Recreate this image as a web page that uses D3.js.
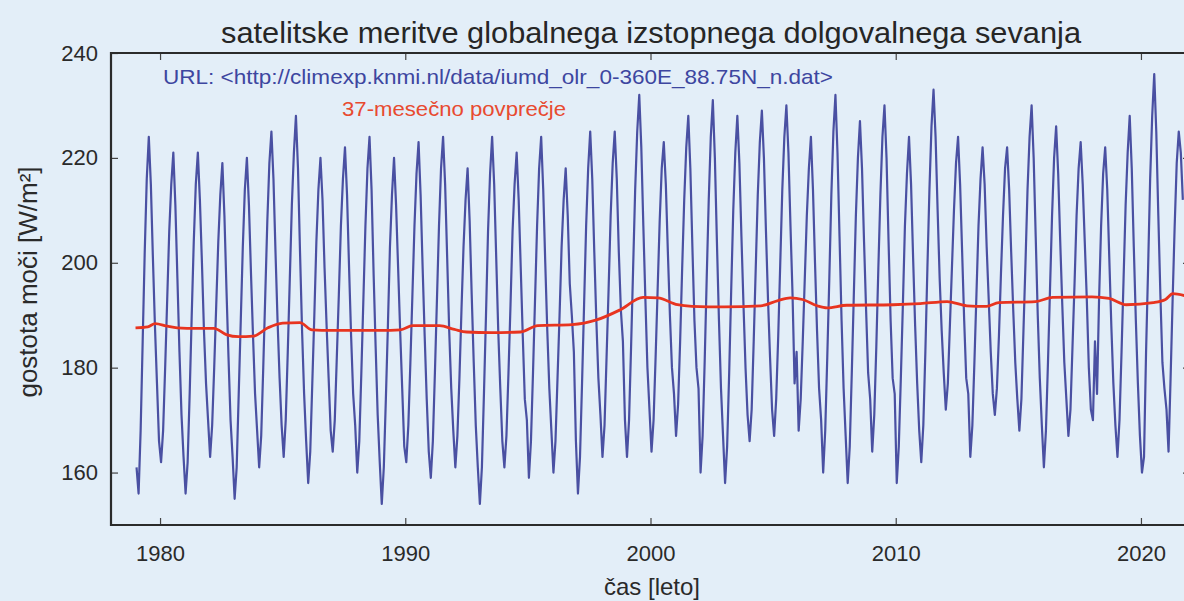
<!DOCTYPE html>
<html>
<head>
<meta charset="utf-8">
<script src="https://cdn.jsdelivr.net/npm/d3@7"></script>
<style>
  html, body { margin: 0; padding: 0; background: #e3eef8; }
  svg { display: block; font-family: "Liberation Sans", Arial, Helvetica, sans-serif; }
</style>
</head>
<body>
<svg id="chart" width="1184" height="601"></svg>
<script>
// ---- data (monthly OLR at 88.75N, W/m2) ----
const startYear = 1979;
const olr1979 = [161,156,168,185,202,216,224,215,201,188,177,166];
const olr1980 = [162,168,180,193,206,215,221,211,197,183,171,163];
const olr1981 = [156,162,175,190,204,215,221,212,200,187,177,170];
const olr1982 = [163,169,180,192,204,213,219,209,195,182,170,163];
const olr1983 = [155,161,175,189,203,214,220,211,198,186,175,168];
const olr1984 = [161,167,180,194,208,219,225,216,202,189,178,169];
const olr1985 = [163,170,183,197,211,221,228,218,202,187,175,166];
const olr1986 = [158,164,177,190,204,214,220,212,199,188,178,168];
const olr1987 = [164,170,182,194,207,216,222,213,199,186,175,169];
const olr1988 = [160,166,179,193,207,218,224,214,198,184,171,162];
const olr1989 = [154,161,174,188,203,213,220,211,199,187,176,165];
const olr1990 = [162,169,181,194,207,217,223,213,199,186,174,164];
const olr1991 = [159,166,179,193,207,218,224,215,201,187,176,168];
const olr1992 = [161,167,178,191,203,212,218,208,194,181,169,161];
const olr1993 = [154,161,175,190,206,217,224,215,201,187,176,166];
const olr1994 = [161,167,179,192,206,215,221,212,199,186,174,170];
const olr1995 = [159,166,179,193,207,218,224,214,200,187,176,168];
const olr1996 = [160,166,178,190,203,212,218,209,196,190,183,166];
const olr1997 = [156,163,177,192,207,218,225,216,202,189,178,171];
const olr1998 = [163,169,182,195,209,219,225,216,202,191,185,170];
const olr1999 = [163,170,184,199,214,225,232,222,207,193,180,172];
const olr2000 = [164,170,182,195,208,218,223,215,202,190,180,175];
const olr2001 = [167,173,185,199,212,222,228,218,203,189,180,176];
const olr2002 = [160,167,181,197,212,224,231,220,204,189,176,167];
const olr2003 = [158,165,179,195,210,221,228,219,205,192,180,171];
const olr2004 = [166,172,185,199,213,223,229,220,206,193,182,172];
const olr2005 = [167,174,186,200,214,224,230,221,207,194,177,183];
const olr2006 = [168,174,185,197,209,218,224,214,200,187,176,170];
const olr2007 = [160,168,182,197,213,225,232,221,205,189,176,167];
const olr2008 = [158,165,179,194,209,220,227,218,204,191,179,174];
const olr2009 = [164,171,184,199,213,224,230,220,204,189,178,175];
const olr2010 = [158,165,178,192,207,217,224,215,201,188,177,168];
const olr2011 = [162,169,183,199,214,226,233,224,210,197,187,179];
const olr2012 = [172,177,188,199,210,219,224,215,202,189,178,175];
const olr2013 = [163,169,181,194,207,216,222,215,203,193,183,175];
const olr2014 = [171,176,186,198,209,218,222,214,202,191,181,174];
const olr2015 = [168,174,187,200,214,224,230,220,205,190,178,169];
const olr2016 = [161,168,181,195,209,220,226,217,204,192,181,174];
const olr2017 = [167,172,184,196,209,218,223,215,204,193,180,172];
const olr2018 = [170,185,175,193,207,217,222,214,201,188,177,169];
const olr2019 = [163,170,183,197,211,221,228,218,203,189,177,167];
const olr2020 = [160,163,183,199,216,228,236,225,209,194,181,176];
const olr2021 = [172,164,178,193,207,219,225,221,212];

const olrYears = [olr1979,olr1980,olr1981,olr1982,olr1983,olr1984,olr1985,olr1986,olr1987,olr1988,
  olr1989,olr1990,olr1991,olr1992,olr1993,olr1994,olr1995,olr1996,olr1997,olr1998,olr1999,olr2000,
  olr2001,olr2002,olr2003,olr2004,olr2005,olr2006,olr2007,olr2008,olr2009,olr2010,olr2011,olr2012,
  olr2013,olr2014,olr2015,olr2016,olr2017,olr2018,olr2019,olr2020,olr2021];

// 37-month running mean
const maTime  = [1979.0,1979.5,1979.8,1980.3,1980.7,1981.5,1982.2,1982.7,1983.2,1983.8,1984.4,1985.0,1985.7,
  1986.2,1987.0,1988.0,1989.0,1989.8,1990.3,1991.4,1992.0,1992.5,1993.5,1994.7,1995.4,1996.8,1997.8,1998.75,
  1999.7,2000.3,2001.1,2001.7,2003.0,2004.5,2005.2,2005.7,2006.2,2006.8,2007.2,2008.0,2009.9,2011.0,2012.1,
  2012.9,2013.7,2014.2,2015.7,2016.4,2018.0,2018.7,2019.4,2020.5,2021.0,2021.3,2021.8];
const maValue = [187.6,187.8,188.4,187.9,187.6,187.5,187.5,186.3,185.9,186.0,187.6,188.5,188.6,
  187.2,187.1,187.1,187.1,187.2,188.0,188.0,187.3,186.8,186.7,186.8,188.0,188.2,189.1,191.0,
  193.4,193.3,192.0,191.7,191.6,191.8,192.8,193.3,193.0,191.8,191.4,191.9,192.0,192.2,192.6,
  191.8,191.7,192.4,192.6,193.4,193.5,193.2,192.0,192.4,193.0,194.1,193.7];

const xTicks = [1980,1990,2000,2010,2020];
const yTicks = [160,180,200,220,240];
const titleText = "satelitske meritve globalnega izstopnega dolgovalnega sevanja";
const urlText = "URL: <http://climexp.knmi.nl/data/iumd_olr_0-360E_88.75N_n.dat>";
const maLabel = "37-mesečno povprečje";
const xLabel = "čas [leto]";
const yLabel = "gostota moči [W/m²]";

// ---- build ----
const monthly = [];
olrYears.forEach((arr, i) => arr.forEach((v, m) => monthly.push({t: startYear + i + (m + 0.5) / 12, v})));
const ma = maTime.map((t, i) => ({t, v: maValue[i]}));

const svg = d3.select("#chart");
const L = 111, R = 1190, T = 53, B = 525;
const x = d3.scaleLinear().domain([1978, 2022]).range([L, R]);
const y = d3.scaleLinear().domain([150, 240]).range([B, T]);

svg.append("defs").append("clipPath").attr("id", "clip")
  .append("rect").attr("x", L).attr("y", T).attr("width", R - L).attr("height", B - T);

const textCol = "#2a2a2a";

// axes
const gx = svg.append("g").attr("transform", `translate(0,${B})`)
  .call(d3.axisBottom(x).tickValues(xTicks).tickFormat(d3.format("d")).tickSizeInner(-7).tickSizeOuter(0).tickPadding(20));
const gxt = svg.append("g").attr("transform", `translate(0,${T})`)
  .call(d3.axisTop(x).tickValues(xTicks).tickFormat("").tickSizeInner(-7).tickSizeOuter(0));
const gy = svg.append("g").attr("transform", `translate(${L},0)`)
  .call(d3.axisLeft(y).tickValues(yTicks).tickSizeInner(-7).tickSizeOuter(0).tickPadding(13));
const gyr = svg.append("g").attr("transform", `translate(${R},0)`)
  .call(d3.axisRight(y).tickValues(yTicks).tickFormat("").tickSizeInner(-7).tickSizeOuter(0));
[gx, gxt, gy, gyr].forEach(g => {
  g.select(".domain").remove();
  g.selectAll(".tick line").attr("stroke", "#444").attr("stroke-width", 1.2);
  g.selectAll(".tick text").attr("fill", textCol).attr("font-size", 22)
    .attr("font-family", "'Liberation Sans', Arial, sans-serif");
});

// lines
const plot = svg.append("g").attr("clip-path", "url(#clip)");
plot.append("path").datum(monthly)
  .attr("fill", "none").attr("stroke", "#4a50a2").attr("stroke-width", 2.2).attr("stroke-linejoin", "round")
  .attr("d", d3.line().x(d => x(d.t)).y(d => y(d.v)));
plot.append("path").datum(ma)
  .attr("fill", "none").attr("stroke", "#e8341f").attr("stroke-width", 2.8).attr("stroke-linejoin", "round")
  .attr("d", d3.line().curve(d3.curveMonotoneX).x(d => x(d.t)).y(d => y(d.v)));

// frame
svg.append("path")
  .attr("d", `M${R},${T}H${L}V${B}H${R}`)
  .attr("fill", "none").attr("stroke", "#2b2b2b").attr("stroke-width", 2.2);

// texts
svg.append("text").attr("x", 221).attr("y", 43)
  .attr("font-size", 30).attr("fill", "#262626")
  .attr("textLength", 860).attr("lengthAdjust", "spacingAndGlyphs").text(titleText);
svg.append("text").attr("x", 163).attr("y", 84)
  .attr("font-size", 21).attr("fill", "#3d46a0")
  .attr("textLength", 670).attr("lengthAdjust", "spacingAndGlyphs").text(urlText);
svg.append("text").attr("x", 342).attr("y", 116)
  .attr("font-size", 21).attr("fill", "#e84a30")
  .attr("textLength", 224).attr("lengthAdjust", "spacingAndGlyphs").text(maLabel);
svg.append("text").attr("x", 652).attr("y", 595).attr("text-anchor", "middle")
  .attr("font-size", 24).attr("fill", textCol).text(xLabel);
svg.append("text").attr("transform", "translate(37,282) rotate(-90)").attr("text-anchor", "middle")
  .attr("font-size", 26).attr("fill", textCol).text(yLabel);
</script>
</body>
</html>
